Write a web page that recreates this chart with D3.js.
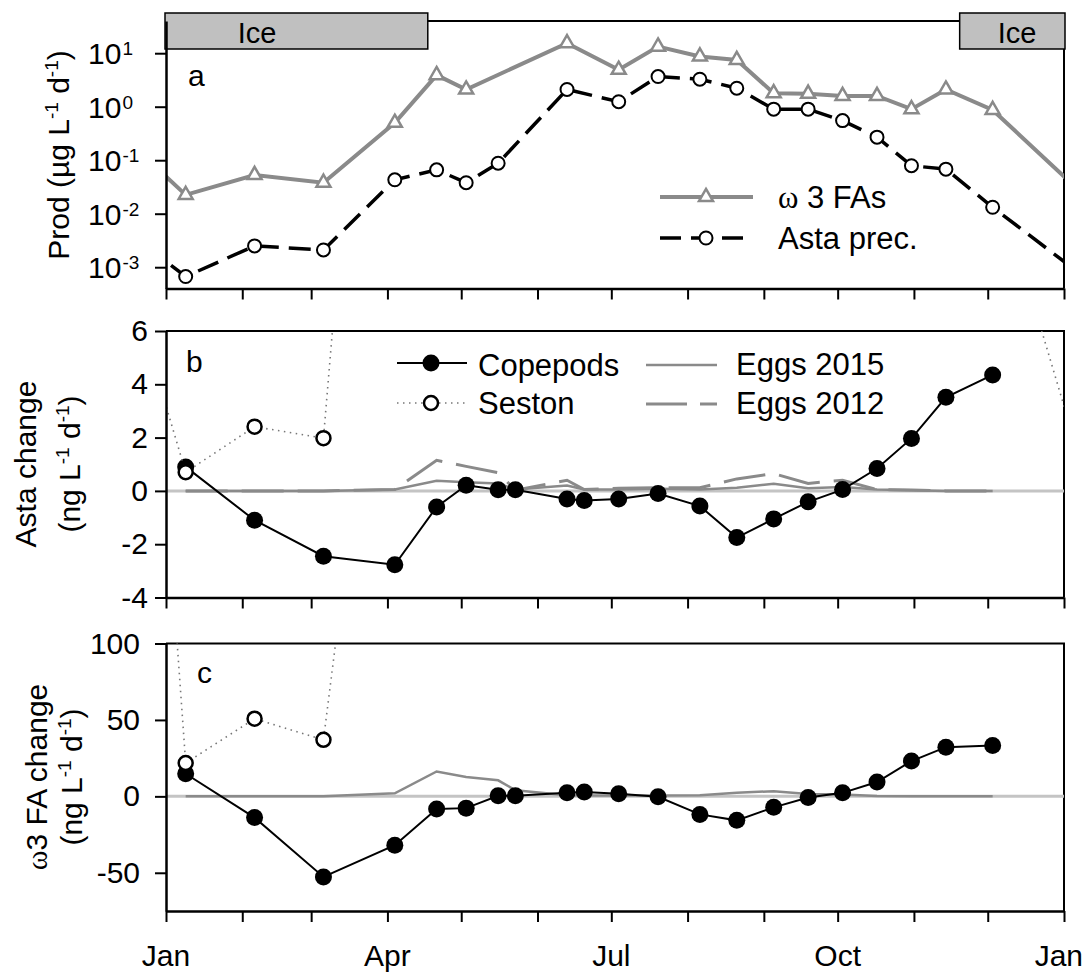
<!DOCTYPE html>
<html><head><meta charset="utf-8">
<script src="https://cdn.jsdelivr.net/npm/d3@7"></script>
<style>body{margin:0;background:#fff} text{font-family:"Liberation Sans",Arial,sans-serif;fill:#000}</style>
</head><body><svg id="chart" width="1084" height="973"></svg>
<script>
// ---------------- DATA ----------------
const sampleDates = ["2015-01-09","2015-02-06","2015-03-06","2015-04-04","2015-04-21","2015-05-03","2015-05-16","2015-05-23","2015-06-13","2015-06-20","2015-07-04","2015-07-20","2015-08-06","2015-08-21","2015-09-05","2015-09-19","2015-10-03","2015-10-17","2015-10-31","2015-11-14","2015-12-03"];
// panel a (µg L-1 d-1)
const omega3Prod = [0.0225,0.053,0.038,0.50,3.9,2.1,null,null,15.4,null,4.9,13.3,8.7,7.5,1.79,1.75,1.59,1.59,0.90,2.1,0.87];
const astaPrec   = [0.00067,0.0025,0.0021,0.043,0.066,0.038,0.088,null,2.1,null,1.24,3.66,3.27,2.22,0.90,0.90,0.55,0.27,0.079,0.068,0.0132];
// panel b (ng L-1 d-1)
const copepodAsta = [0.90,-1.10,-2.45,-2.77,-0.60,0.21,0.04,0.04,-0.30,-0.36,-0.30,-0.10,-0.57,-1.75,-1.05,-0.41,0.05,0.84,1.97,3.51,4.35];
const sestonAsta  = [0.70,2.41,1.98,34,null,null,null,null,null,null,null,null,null,null,null,null,null,null,null,null,12.2];
const eggs2015Asta = [0,0,0,0.05,0.38,0.32,0.28,0.05,0.2,0.05,0.05,0.08,0.05,0.12,0.27,0.1,0.15,0.05,0.02,0,0];
const eggs2012Asta = [0,0,0,0.05,1.15,0.92,0.68,0.03,0.4,0.05,0.1,0.12,0.12,0.45,0.65,0.28,0.4,0.05,0.03,0,0];
// panel c (ng L-1 d-1)
const copepodFA = [14.8,-13.9,-52.7,-32.0,-8.3,-7.7,0.4,0.4,2.4,2.8,1.7,-0.3,-11.8,-15.7,-7.2,-0.7,2.3,9.4,23.1,32.2,33.3];
const sestonFA  = [21.8,50.8,37.0,408,null,null,null,null,null,null,null,null,null,null,null,null,null,null,null,null,860];
const eggs2015FA = [0,0,0,2.0,16.3,12.6,10.5,4,0.8,0.5,0.5,0.5,0.8,2.4,3.4,1.5,1.2,0.3,0.1,0,0];
// ice cover periods
const iceStart = ["2015-01-01","2015-11-20"];
const iceEnd   = ["2015-04-17","2016-01-01"];
// ticks
const logTickExps = [-3,-2,-1,0,1];
const bTicks = [-4,-2,0,2,4,6];
const cTicks = [-50,0,50,100];
const monthLabelDates = ["2015-01-01","2015-04-01","2015-07-01","2015-10-01","2016-01-01"];
const monthLabels = ["Jan","Apr","Jul","Oct","Jan"];

// ---------------- LAYOUT ----------------
const svg = d3.select("#chart");
svg.append("rect").attr("width",1084).attr("height",973).attr("fill","#fff");
const parse = d3.utcParse("%Y-%m-%d");
const L = 166, R = 1064;
const x = d3.scaleUtc().domain([parse("2015-01-01"), parse("2016-01-01")]).range([L, R]);
const PA = {top:21, bottom:288.5}, PB = {top:331, bottom:597.5}, PC = {top:643.5, bottom:911};
const yA = d3.scaleLog().domain([0.0004, 40]).range([PA.bottom, PA.top]);
const yB = d3.scaleLinear().domain([-4, 6]).range([PB.bottom, PB.top]);
const yC = d3.scaleLinear().domain([-75, 100]).range([PC.bottom, PC.top]);
const GRAY = "#8a8a8a";

function pts(vals){ return vals.map((v,i)=> v==null?null:{date:parse(sampleDates[i]), v}).filter(Boolean); }
function wrap(p){ const f=p[0], l=p[p.length-1];
  return [{date:d3.utcDay.offset(l.date,-365), v:l.v}, ...p, {date:d3.utcDay.offset(f.date,365), v:f.v}]; }
function clip(id, P){
  svg.append("clipPath").attr("id",id).append("rect").attr("x",L).attr("y",P.top).attr("width",R-L).attr("height",P.bottom-P.top);
  return svg.append("g").attr("clip-path",`url(#${id})`);
}
function rich(t, parts, size, supSize){
  parts.forEach(p=>{
    if (p.sup) t.append("tspan").attr("font-size",supSize).attr("dy",-11).text(p.t);
    else if (p.after) t.append("tspan").attr("dy",11).text(p.t);
    else t.append("tspan").text(p.t);
  });
}
function frame(P){
  svg.append("path").attr("d",`M${L},${P.top}H${R}V${P.bottom}`).attr("fill","none").attr("stroke","#000").attr("stroke-width",2);
}
function bottomAxis(P, labels){
  const g = svg.append("g").attr("transform",`translate(0,${P.bottom})`)
    .call(d3.axisBottom(x).ticks(d3.utcMonth.every(1)).tickSize(11).tickSizeOuter(0).tickFormat(""));
  g.select(".domain").attr("stroke","#000").attr("stroke-width",2.5);
  g.selectAll(".tick line").attr("stroke","#000").attr("stroke-width",2);
  if (labels){
    monthLabelDates.forEach((d,i)=>{
      const t = svg.append("text").attr("x",x(parse(d))).attr("y",P.bottom+55).attr("text-anchor","middle")
        .attr("font-size",30).text(monthLabels[i]);
      const bb = t.node().getBBox();
      if (bb.x + bb.width > 1083) t.attr("x", x(parse(d)) - (bb.x + bb.width - 1083));
    });
  }
}
function leftAxis(P, y, ticks, pad, fmt){
  const g = svg.append("g").attr("transform",`translate(${L},0)`)
    .call(d3.axisLeft(y).tickValues(ticks).tickSize(11).tickSizeOuter(0).tickPadding(pad).tickFormat(fmt||(d=>String(d))));
  g.select(".domain").attr("stroke","#000").attr("stroke-width",2.5);
  g.selectAll(".tick line").attr("stroke","#000").attr("stroke-width",2);
  g.selectAll(".tick text").attr("font-size",30).attr("font-family",'"Liberation Sans",Arial,sans-serif').attr("fill","#000");
  return g;
}

// ---------------- PANEL A ----------------
frame(PA);
iceStart.forEach((s,i)=>{
  svg.append("rect").attr("x",x(parse(s))-1).attr("y",13).attr("width",x(parse(iceEnd[i]))-x(parse(s))+2).attr("height",36)
    .attr("fill","#c0c0c0").attr("stroke","#000").attr("stroke-width",1.5);
});
const iceLabelX = [257, 1017];
iceLabelX.forEach(cx=> svg.append("text").attr("x",cx).attr("y",43).attr("text-anchor","middle").attr("font-size",29).text("Ice"));

const gA = clip("clipA", PA);
const lineA = d3.line().x(d=>x(d.date)).y(d=>yA(d.v));
const om = pts(omega3Prod), as = pts(astaPrec);
gA.append("path").attr("d",lineA(wrap(om))).attr("fill","none").attr("stroke",GRAY).attr("stroke-width",4);
gA.append("path").attr("d",lineA(wrap(as))).attr("fill","none").attr("stroke","#000").attr("stroke-width",3.5).attr("stroke-dasharray","22,10");
const tri = d3.symbol().type(d3.symbolTriangle).size(85);
gA.selectAll(".tri").data(om).join("path").attr("d",tri)
  .attr("transform",d=>`translate(${x(d.date)},${yA(d.v)})`).attr("fill","#fff").attr("stroke",GRAY).attr("stroke-width",2.5);
gA.selectAll(".oc").data(as).join("circle").attr("cx",d=>x(d.date)).attr("cy",d=>yA(d.v)).attr("r",6.5)
  .attr("fill","#fff").attr("stroke","#000").attr("stroke-width",2);

bottomAxis(PA,false);
const gaL = leftAxis(PA, yA, logTickExps.map(e=>Math.pow(10,e)), 7, ()=> "");
gaL.selectAll(".tick").each(function(d,i){
  const t = d3.select(this).append("text").attr("x",-78).attr("dy","0.35em").attr("text-anchor","start")
    .attr("font-size",30).attr("fill","#000").attr("font-family",'"Liberation Sans",Arial,sans-serif');
  t.append("tspan").text("10");
  t.append("tspan").attr("font-size",19).attr("dy",-9).attr("dx",1).text(String(logTickExps[i]));
});
svg.append("text").attr("x",188).attr("y",86).attr("font-size",30).text("a");
{
  const t = svg.append("text").attr("transform","translate(69,155) rotate(-90)").attr("text-anchor","middle").attr("font-size",30);
  rich(t,[{t:"Prod (µg L"},{t:"-1",sup:true},{t:" d",after:true},{t:"-1",sup:true},{t:")",after:true}],30,19);
}
// legend a
svg.append("line").attr("x1",660).attr("x2",753).attr("y1",197).attr("y2",197).attr("stroke",GRAY).attr("stroke-width",4);
svg.append("path").attr("d",tri).attr("transform","translate(706,197)").attr("fill","#fff").attr("stroke",GRAY).attr("stroke-width",2.5);
{
  const t = svg.append("text").attr("x",778).attr("y",208).attr("font-size",31);
  t.append("tspan").attr("font-family",'"Liberation Serif","Times New Roman",serif').text("ω");
  t.append("tspan").text(" 3 FAs");
}
svg.append("line").attr("x1",660).attr("x2",743).attr("y1",238).attr("y2",238).attr("stroke","#000").attr("stroke-width",3.5).attr("stroke-dasharray","21,10");
svg.append("circle").attr("cx",706).attr("cy",238).attr("r",6.5).attr("fill","#fff").attr("stroke","#000").attr("stroke-width",2);
svg.append("text").attr("x",778).attr("y",249).attr("font-size",31).text("Asta prec.");

// ---------------- PANELS B & C ----------------
function changePanel(P, y, id, cop, ses, eggs15, eggs12){
  frame(P);
  const g = clip(id, P);
  const ln = d3.line().x(d=>x(d.date)).y(d=>y(d.v));
  g.append("line").attr("x1",L).attr("x2",R).attr("y1",y(0)).attr("y2",y(0)).attr("stroke","#c4c4c4").attr("stroke-width",3);
  g.append("path").attr("d",ln(pts(eggs15))).attr("fill","none").attr("stroke",GRAY).attr("stroke-width",2.5);
  if (eggs12) g.append("path").attr("d",ln(pts(eggs12))).attr("fill","none").attr("stroke",GRAY).attr("stroke-width",3).attr("stroke-dasharray","42,14");
  const cp = pts(cop), sp = pts(ses);
  g.append("path").attr("d",ln(cp)).attr("fill","none").attr("stroke","#000").attr("stroke-width",2);
  g.selectAll(".fc").data(cp).join("circle").attr("cx",d=>x(d.date)).attr("cy",d=>y(d.v)).attr("r",8.5).attr("fill","#000");
  g.append("path").attr("d",ln(wrap(sp))).attr("fill","none").attr("stroke","#777").attr("stroke-width",1.6).attr("stroke-dasharray","1.5,4.5");
  g.selectAll(".sc").data(sp).join("circle").attr("cx",d=>x(d.date)).attr("cy",d=>y(d.v)).attr("r",7)
    .attr("fill","#fff").attr("stroke","#000").attr("stroke-width",2.5);
}
changePanel(PB, yB, "clipB", copepodAsta, sestonAsta, eggs2015Asta, eggs2012Asta);
bottomAxis(PB,false);
leftAxis(PB, yB, bTicks, 7);
svg.append("text").attr("x",186).attr("y",372).attr("font-size",30).text("b");
{
  svg.append("text").attr("transform","translate(36,464) rotate(-90)").attr("text-anchor","middle").attr("font-size",30).text("Asta change");
  const t2 = svg.append("text").attr("transform","translate(80,464) rotate(-90)").attr("text-anchor","middle").attr("font-size",30);
  rich(t2,[{t:"(ng L"},{t:"-1",sup:true},{t:" d",after:true},{t:"-1",sup:true},{t:")",after:true}],30,19);
}
// legend b
svg.append("line").attr("x1",397).attr("x2",467).attr("y1",363).attr("y2",363).attr("stroke","#000").attr("stroke-width",2);
svg.append("circle").attr("cx",431).attr("cy",363).attr("r",8.5).attr("fill","#000");
svg.append("text").attr("x",478).attr("y",376).attr("font-size",31).text("Copepods");
svg.append("line").attr("x1",397).attr("x2",467).attr("y1",403).attr("y2",403).attr("stroke","#777").attr("stroke-width",1.6).attr("stroke-dasharray","1.5,4.5");
svg.append("circle").attr("cx",431).attr("cy",403).attr("r",7).attr("fill","#fff").attr("stroke","#000").attr("stroke-width",2.5);
svg.append("text").attr("x",478).attr("y",414).attr("font-size",31).text("Seston");
svg.append("line").attr("x1",646).attr("x2",717).attr("y1",365).attr("y2",365).attr("stroke",GRAY).attr("stroke-width",2.5);
svg.append("text").attr("x",736).attr("y",375).attr("font-size",31).text("Eggs 2015");
svg.append("line").attr("x1",646).attr("x2",717).attr("y1",404).attr("y2",404).attr("stroke",GRAY).attr("stroke-width",3).attr("stroke-dasharray","41,13");
svg.append("text").attr("x",736).attr("y",414).attr("font-size",31).text("Eggs 2012");

changePanel(PC, yC, "clipC", copepodFA, sestonFA, eggs2015FA, null);
bottomAxis(PC,true);
leftAxis(PC, yC, cTicks, 15);
svg.append("text").attr("x",197).attr("y",683).attr("font-size",30).text("c");
{
  const t1 = svg.append("text").attr("transform","translate(47,777) rotate(-90)").attr("text-anchor","middle").attr("font-size",30);
  t1.append("tspan").attr("font-family",'"Liberation Serif","Times New Roman",serif').text("ω");
  t1.append("tspan").text("3 FA change");
  const t2 = svg.append("text").attr("transform","translate(82,777) rotate(-90)").attr("text-anchor","middle").attr("font-size",30);
  rich(t2,[{t:"(ng L"},{t:"-1",sup:true},{t:" d",after:true},{t:"-1",sup:true},{t:")",after:true}],30,19);
}
</script></body></html>
